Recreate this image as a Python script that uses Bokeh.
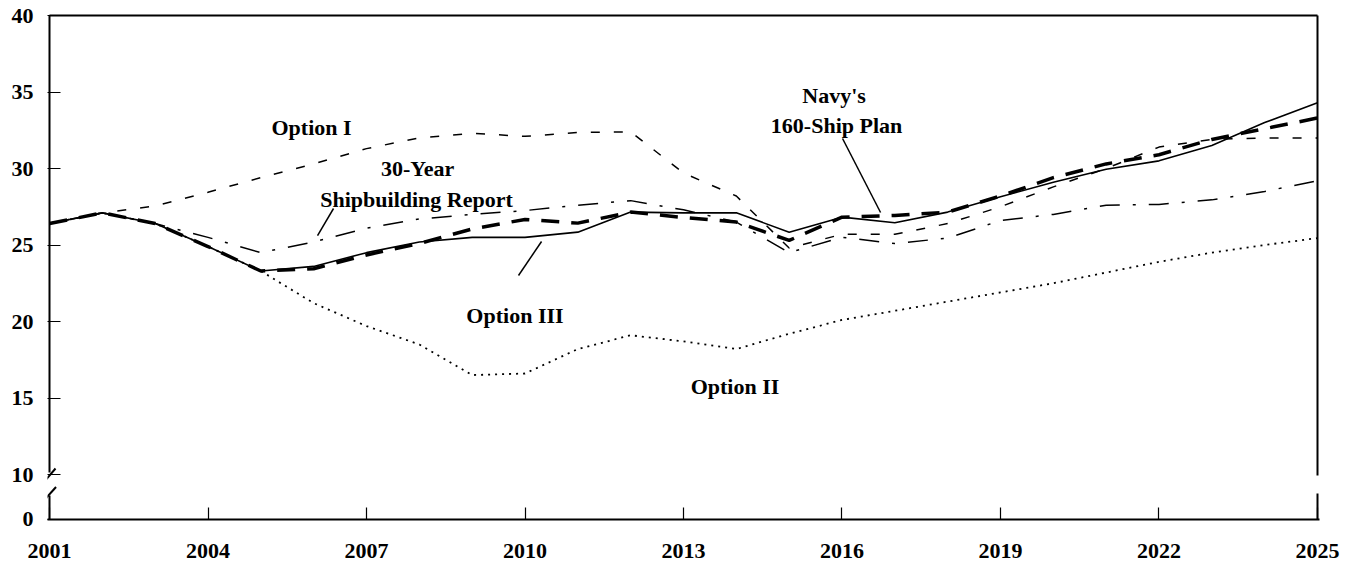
from bokeh.plotting import figure
from bokeh.models import Range1d, FixedTicker, CustomJSTickFormatter, Label
from bokeh.embed import file_html
from bokeh.resources import INLINE

# ---------------- data ----------------
years = [2001, 2002, 2003, 2004, 2005, 2006, 2007, 2008, 2009, 2010, 2011, 2012, 2013,
         2014, 2015, 2016, 2017, 2018, 2019, 2020, 2021, 2022, 2023, 2024, 2025]

navy_160 = [26.4, 27.1, 26.4, 24.9, 23.3, 23.45, 24.35, 25.1, 26.05, 26.67, 26.43, 27.15, 26.8,
            26.5, 25.3, 26.82, 26.93, 27.15, 28.2, 29.4, 30.3, 30.9, 31.9, 32.6, 33.3]
option_iii = [26.4, 27.1, 26.4, 24.9, 23.3, 23.6, 24.5, 25.2, 25.5, 25.5, 25.84, 27.15, 27.1,
              27.1, 25.84, 26.82, 26.45, 27.15, 28.15, 29.1, 29.95, 30.5, 31.5, 33.0, 34.3]
report_30yr = [26.4, 27.1, 26.4, 25.5, 24.5, 25.2, 26.1, 26.7, 27.0, 27.25, 27.6, 27.9, 27.3,
               26.5, 24.5, 25.5, 25.1, 25.45, 26.6, 27.0, 27.6, 27.65, 27.95, 28.5, 29.2]
option_i = [26.4, 27.1, 27.55, 28.45, 29.4, 30.3, 31.3, 32.0, 32.3, 32.1, 32.35, 32.4, 29.7,
            28.2, 24.8, 25.7, 25.7, 26.4, 27.5, 28.8, 30.0, 31.4, 31.9, 32.0, 32.0]
option_ii = [26.4, 27.1, 26.4, 24.9, 23.3, 21.2, 19.7, 18.5, 16.5, 16.6, 18.2, 19.1, 18.7,
             18.2, 19.2, 20.1, 20.7, 21.3, 21.9, 22.5, 23.2, 23.9, 24.5, 25.0, 25.45]

x_ticks = [2001, 2004, 2007, 2010, 2013, 2016, 2019, 2022, 2025]
y_ticks = [10, 15, 20, 25, 30, 35, 40]
zero_label = "0"

labels = ["Option I", "30-Year", "Shipbuilding Report", "Option III", "Option II",
          "Navy's", "160-Ship Plan"]

# ---------------- layout constants ----------------
X0, X1 = 2001, 2025
Y_TOP = 40
Y_ZERO = 7.059          # display position of the broken-axis "0"
PX_X = 52.83            # px per year
PX_Y = 15.3             # px per unit
PAD = 2.0               # px of padding inside frame for border lines
FONT = "Liberation Serif"

p = figure(width=1354, height=562,
           x_range=Range1d(X0 - PAD / PX_X, X1 + PAD / PX_X),
           y_range=Range1d(Y_ZERO, Y_TOP + PAD / PX_Y),
           min_border_left=47, min_border_right=35, min_border_top=13, min_border_bottom=43,
           output_backend="svg", toolbar_location=None)
p.outline_line_color = None
p.xgrid.grid_line_color = None
p.ygrid.grid_line_color = None
p.background_fill_color = "white"

# x axis
xa = p.xaxis[0]
xa.ticker = FixedTicker(ticks=x_ticks)
xa.major_tick_in = 12
xa.major_tick_out = 0
xa.minor_tick_line_color = None
xa.axis_line_width = 2
xa.major_tick_line_width = 1.2
xa.major_label_standoff = 24
xa.major_label_text_font = FONT
xa.major_label_text_font_style = "bold"
xa.major_label_text_font_size = "22px"
xa.major_label_text_color = "black"

# y axis (line drawn manually because of the break)
ya = p.yaxis[0]
ya.ticker = FixedTicker(ticks=[Y_ZERO + 0.001] + y_ticks)
ya.formatter = CustomJSTickFormatter(args=dict(z=zero_label),
                                     code="return tick < 9 ? z : tick.toFixed(0);")
ya.axis_line_color = None
ya.major_tick_in = 13
ya.major_tick_out = 0
ya.minor_tick_line_color = None
ya.major_tick_line_width = 1.2
ya.major_label_standoff = 14
ya.major_label_text_font = FONT
ya.major_label_text_font_style = "bold"
ya.major_label_text_font_size = "22px"
ya.major_label_text_color = "black"

# frame borders with axis break
gap_left_top, gap_left_bot = 10.13, 8.63
gap_right_top, gap_right_bot = 9.93, 8.76
p.segment(x0=[X0, X0, X1, X1, X0], y0=[Y_TOP, gap_left_bot, Y_TOP, gap_right_bot, Y_TOP],
          x1=[X0, X0, X1, X1, X1], y1=[gap_left_top, Y_ZERO, gap_right_top, Y_ZERO, Y_TOP],
          line_color="black", line_width=2)
# break slashes
dx, dy = 6 / PX_X, 7 / PX_Y
b1, b2 = 9.935, 8.725
p.segment(x0=[X0 - dx, X0 - dx], y0=[b1 - dy, b2 - dy],
          x1=[X0 + dx, X0 + dx + 0.01], y1=[b1 + dy, b2 + dy],
          line_color="black", line_width=2)

# ---------------- series ----------------
p.line(years, option_ii, line_color="black", line_width=1.8, line_dash="2 5")
p.line(years, report_30yr, line_color="black", line_width=1.5, line_dash="20 13 3 13")
p.line(years, option_i, line_color="black", line_width=1.5, line_dash="9 14")
p.line(years, option_iii, line_color="black", line_width=1.6)
p.line(years, navy_160, line_color="black", line_width=3.5, line_dash="18 12")

# ---------------- annotations ----------------
label_x = [2005.96, 2007.966, 2007.947, 2009.81, 2013.975, 2015.85, 2015.897]
label_y = [32.71, 30.0, 27.97, 20.39, 15.75, 34.77, 32.81]
for t, lx, ly in zip(labels, label_x, label_y):
    p.add_layout(Label(x=lx, y=ly, text=t, text_align="center", text_baseline="alphabetic",
                       text_font=FONT, text_font_style="bold", text_font_size="22px",
                       text_color="black"))

# pointer lines
p.segment(x0=[2006.376, 2009.877, 2016.01], y0=[27.386, 23.007, 31.961],
          x1=[2006.073, 2010.313, 2016.73], y1=[25.62, 25.229, 27.124],
          line_color="black", line_width=1.5)

open("out.html", "w").write(file_html(p, INLINE))
